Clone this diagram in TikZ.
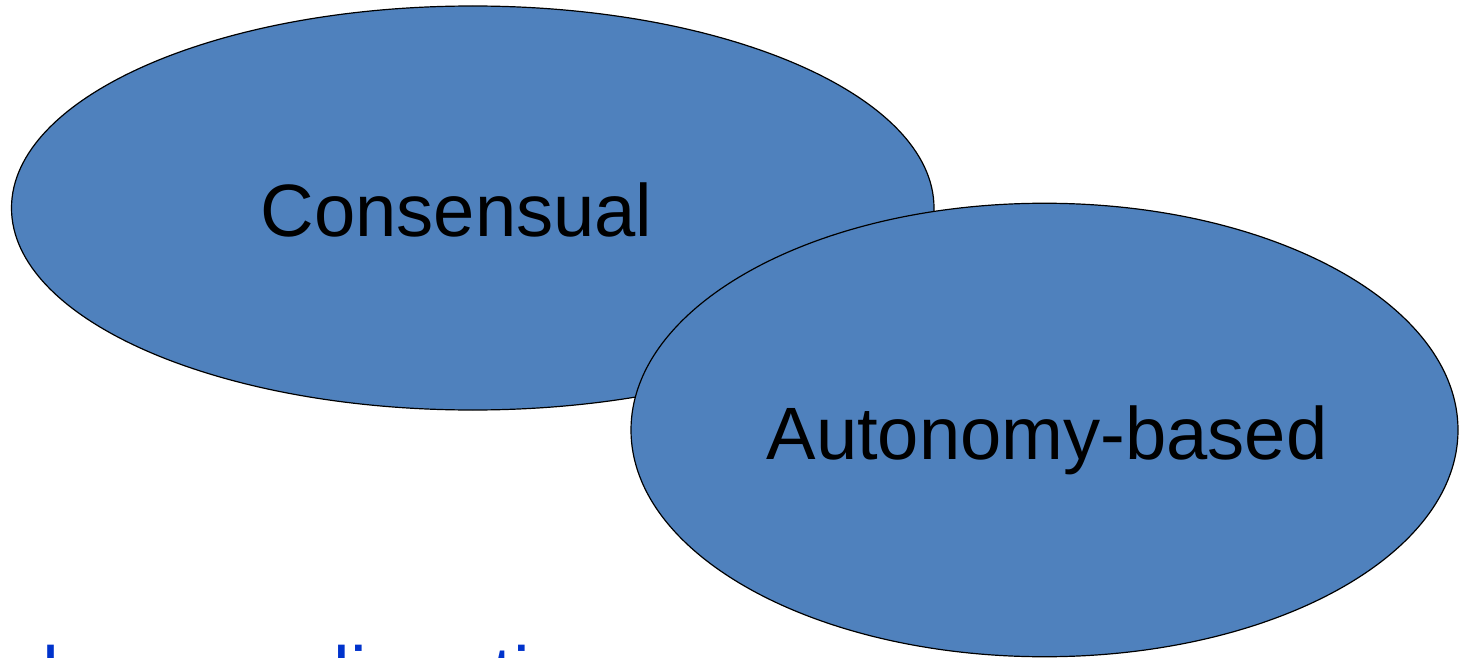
\documentclass[tikz,border=0pt]{standalone}
\usepackage{fontspec}
\setmainfont{Liberation Sans}
\usetikzlibrary{shapes.geometric}
\definecolor{bubblefill}{RGB}{79,129,189}
\definecolor{headblue}{RGB}{0,51,204}
\begin{document}
\begin{tikzpicture}[x=1pt,y=-1pt,
  bubble/.style={ellipse, draw=black, line width=1.2pt, fill=bubblefill, inner sep=0pt},
  label/.style={inner sep=0pt, anchor=base, font=\fontsize{74.2}{80}\selectfont},
  heading/.style={inner sep=0pt, anchor=base west, text=headblue, font=\fontsize{75}{80}\selectfont}]
  % page frame and clipping
  \clip (0,0) rectangle (1460,658);
  \fill[white] (0,0) rectangle (1460,658);
  % heading text below, cut off by the page edge
  \node[heading] (head) at (42,699) {human alienation};
  % the two overlapping ellipses
  \node[bubble, minimum width=922.5pt, minimum height=404pt] (cons) at (472.75,208) {};
  \node[bubble, minimum width=827pt, minimum height=453.5pt] (auto) at (1044.5,430) {};
  % labels
  \node[label] (consl) at (456.5,236.7) {Consensual};
  \node[label] (autol) at (1047,459) {Autonomy-based};
\end{tikzpicture}
\end{document}
